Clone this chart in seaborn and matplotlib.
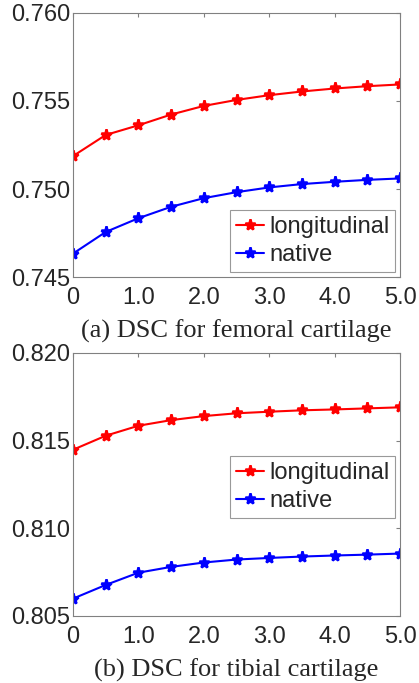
import pandas as pd
import matplotlib
matplotlib.use("Agg")
import matplotlib.pyplot as plt
import seaborn as sns

# weight values on the x axis
weights = [0, 0.5, 1.0, 1.5, 2.0, 2.5, 3.0, 3.5, 4.0, 4.5, 5.0]

# DSC for femoral cartilage
femoral_longitudinal = [0.75187, 0.75307, 0.75362, 0.75423, 0.75472, 0.75506,
                        0.75533, 0.75554, 0.75571, 0.75584, 0.75594]
femoral_native = [0.74633, 0.74756, 0.74834, 0.74899, 0.74948, 0.74982,
                  0.75009, 0.75028, 0.75041, 0.75052, 0.75060]

# DSC for tibial cartilage
tibial_longitudinal = [0.81448, 0.81528, 0.81585, 0.81617, 0.81640, 0.81656,
                       0.81665, 0.81673, 0.81678, 0.81684, 0.81690]
tibial_native = [0.80599, 0.80677, 0.80747, 0.80780, 0.80805, 0.80822,
                 0.80831, 0.80839, 0.80845, 0.80850, 0.80856]

xtick_values = [0, 1, 2, 3, 4, 5]
xtick_labels = ["0", "1.0", "2.0", "3.0", "4.0", "5.0"]
femoral_yticks = [0.745, 0.750, 0.755, 0.760]
tibial_yticks = [0.805, 0.810, 0.815, 0.820]
captions = ["(a) DSC for femoral cartilage", "(b) DSC for tibial cartilage"]

sns.set_style("white")
plt.rcParams["font.family"] = ["Liberation Sans", "DejaVu Sans"]


def make_df(longitudinal, native):
    return pd.DataFrame({
        "weight": weights * 2,
        "dsc": longitudinal + native,
        "method": ["longitudinal"] * len(weights) + ["native"] * len(weights),
    })


def draw_panel(ax, df, yticks, caption, legend_loc, legend_anchor):
    sns.lineplot(data=df, x="weight", y="dsc", hue="method",
                 palette={"longitudinal": "#ff0000", "native": "#0000ff"},
                 marker="*", markersize=8, markeredgewidth=1.8, linewidth=1.5,
                 ax=ax)
    # seaborn gives markers a white edge; make them solid like the original
    for line in ax.lines:
        line.set_markeredgecolor(line.get_color())
    ax.set_xlim(0, 5)
    ax.set_ylim(yticks[0], yticks[-1])
    ax.set_xticks(xtick_values)
    ax.set_xticklabels(xtick_labels)
    ax.set_yticks(yticks)
    ax.set_yticklabels([f"{v:.3f}" for v in yticks])
    ax.tick_params(direction="in", length=3, width=0.8, color="#808080",
                   labelsize=17, top=True, right=True)
    ax.tick_params(axis="x", pad=7)
    ax.tick_params(axis="y", pad=2)
    for spine in ax.spines.values():
        spine.set_color("#808080")
        spine.set_linewidth(0.8)
    ax.set_xlabel(caption, fontsize=19, family=["Liberation Serif"], labelpad=7.5)
    ax.set_ylabel("")
    leg = ax.legend(loc=legend_loc, bbox_to_anchor=legend_anchor, fontsize=17,
                    frameon=True, fancybox=False, handlelength=1.2,
                    handletextpad=0.2, borderpad=0.25, labelspacing=0.28,
                    borderaxespad=0.2)
    for h in leg.legend_handles:
        h.set_markeredgecolor(h.get_color())
    leg.get_frame().set_edgecolor("#808080")
    leg.get_frame().set_linewidth(0.8)


fig = plt.figure(figsize=(4.19, 6.83), dpi=100)
ax1 = fig.add_axes([0.1742, 0.5944, 0.7805, 0.3866])
ax2 = fig.add_axes([0.1742, 0.0981, 0.7805, 0.3851])

draw_panel(ax1, make_df(femoral_longitudinal, femoral_native), femoral_yticks,
           captions[0], "lower right", (1.0, 0.0))
draw_panel(ax2, make_df(tibial_longitudinal, tibial_native), tibial_yticks,
           captions[1], "center right", (1.0, 0.49))

fig.savefig("out.png", dpi=100)
